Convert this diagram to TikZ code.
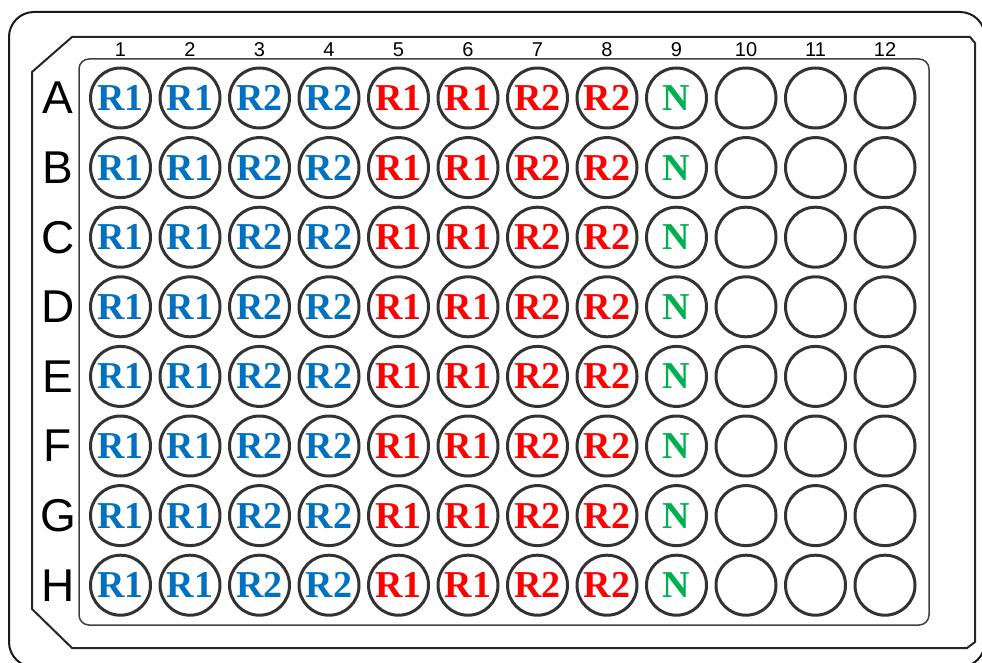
\documentclass[tikz,border=0pt]{standalone}
\usepackage{fontspec}
\setmainfont{Liberation Serif}
\newfontfamily\labfont{Liberation Sans}
\definecolor{rblue}{HTML}{0070C0}
\definecolor{rred}{HTML}{FF0000}
\definecolor{rgreen}{HTML}{00B050}
\definecolor{wellline}{HTML}{333333}
\begin{document}
\begin{tikzpicture}[x=1pt,y=-1pt,
  well/.style={circle,draw=wellline,line width=3pt,minimum size=60pt,inner sep=0pt,
    font=\fontsize{38}{38}\selectfont\bfseries},
  collab/.style={font=\labfont\fontsize{20}{20}\selectfont,inner sep=0pt},
  rowlab/.style={font=\labfont\fontsize{46}{46}\selectfont,inner sep=0pt}]
\useasboundingbox (0,0) rectangle (982,663);
\begin{scope}
\clip (0,0) rectangle (982,663);
\draw[line width=2pt,black!90,rounded corners=25pt] (9,12) rectangle (985,667);
\end{scope}
\draw[line width=2pt,black!85] (72,37) -- (970,37) -- (975,43) -- (975,642) -- (967,648) -- (72,648) -- (32,609) -- (32,72) -- cycle;
\draw[line width=1.5pt,black!75,rounded corners=10pt] (79,59) rectangle (929,625);
\foreach \c in {1,...,12}{
  \node[collab] (col\c) at ({120.5+69.5*(\c-1)},50) {\c};
}
\foreach \r [count=\i from 0] in {A,B,C,D,E,F,G,H}{
  \node[rowlab] (row\r) at (58,{98+69.6*\i}) {\r};
  \foreach \c in {1,...,12}{
    \pgfmathtruncatemacro{\cc}{\c}
    \ifcase\cc\or
      \def\txt{R1}\def\col{rblue}\or
      \def\txt{R1}\def\col{rblue}\or
      \def\txt{R2}\def\col{rblue}\or
      \def\txt{R2}\def\col{rblue}\or
      \def\txt{R1}\def\col{rred}\or
      \def\txt{R1}\def\col{rred}\or
      \def\txt{R2}\def\col{rred}\or
      \def\txt{R2}\def\col{rred}\or
      \def\txt{N}\def\col{rgreen}\else
      \def\txt{}\def\col{black}\fi
    \node[well,text=\col] (w\r\c) at ({120.5+69.5*(\c-1)},{98+69.6*\i}) {\txt};
  }
}
\end{tikzpicture}
\end{document}
